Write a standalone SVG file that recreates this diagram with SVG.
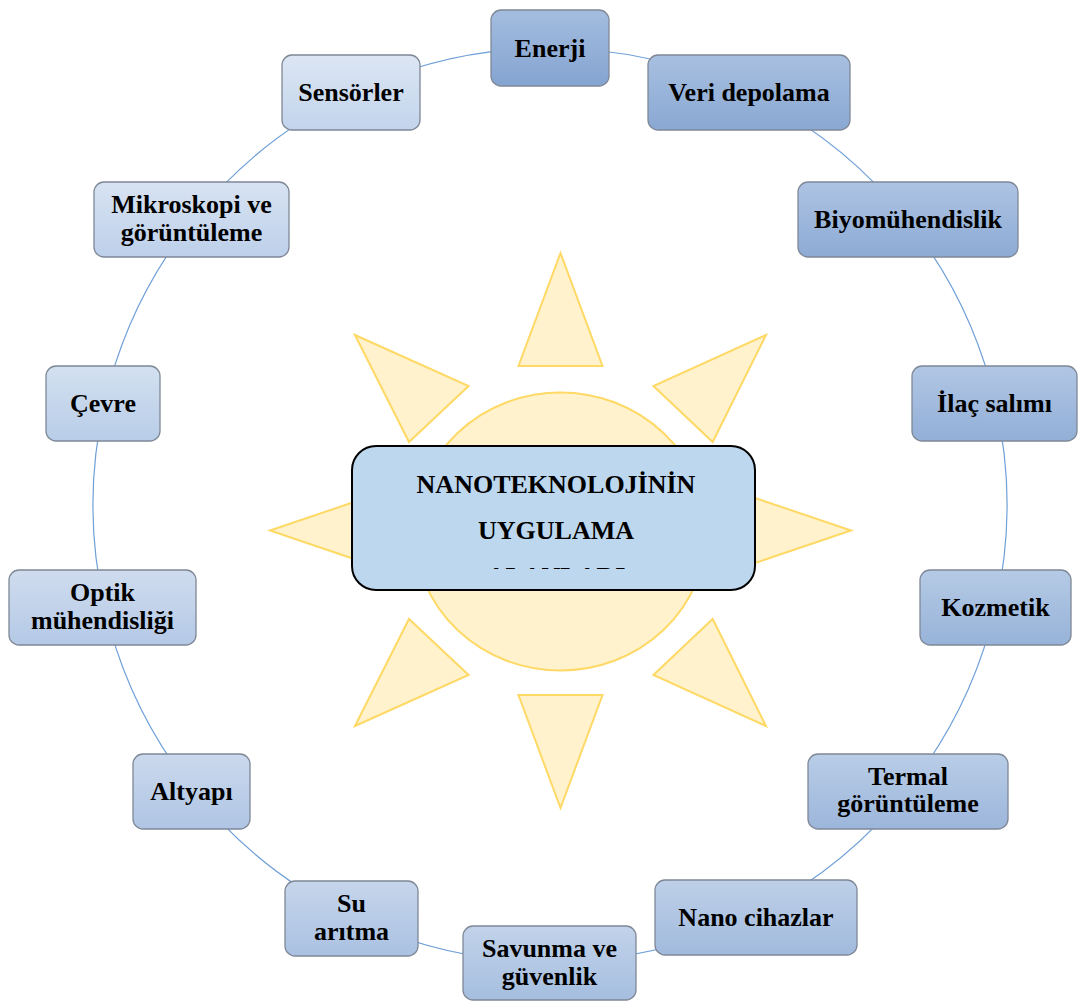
<svg xmlns="http://www.w3.org/2000/svg" width="1078" height="1001" viewBox="0 0 1078 1001">
<style>
.node rect{stroke:#7f8896;stroke-width:1.3}
.t{font-family:"Liberation Serif","Times New Roman",serif;font-weight:bold;font-size:26px;fill:#000;text-anchor:middle}
.conn path{fill:none;stroke:#6fa0d8;stroke-width:1.2}
.sun{fill:#fff2cc;stroke:#ffd966;stroke-width:2;stroke-linejoin:miter}
</style>
<defs>
<linearGradient id="g0" x1="0" y1="0" x2="0" y2="1"><stop offset="0" stop-color="#a4bddf"/><stop offset="1" stop-color="#84a4d1"/></linearGradient>
<linearGradient id="g1" x1="0" y1="0" x2="0" y2="1"><stop offset="0" stop-color="#a8c0e0"/><stop offset="1" stop-color="#89a8d3"/></linearGradient>
<linearGradient id="g2" x1="0" y1="0" x2="0" y2="1"><stop offset="0" stop-color="#adc3e2"/><stop offset="1" stop-color="#8dabd5"/></linearGradient>
<linearGradient id="g3" x1="0" y1="0" x2="0" y2="1"><stop offset="0" stop-color="#b1c6e4"/><stop offset="1" stop-color="#92afd7"/></linearGradient>
<linearGradient id="g4" x1="0" y1="0" x2="0" y2="1"><stop offset="0" stop-color="#b5cae5"/><stop offset="1" stop-color="#97b3d9"/></linearGradient>
<linearGradient id="g5" x1="0" y1="0" x2="0" y2="1"><stop offset="0" stop-color="#b9cde7"/><stop offset="1" stop-color="#9cb6db"/></linearGradient>
<linearGradient id="g6" x1="0" y1="0" x2="0" y2="1"><stop offset="0" stop-color="#bed0e8"/><stop offset="1" stop-color="#a1badd"/></linearGradient>
<linearGradient id="g7" x1="0" y1="0" x2="0" y2="1"><stop offset="0" stop-color="#c2d3ea"/><stop offset="1" stop-color="#a5bedf"/></linearGradient>
<linearGradient id="g8" x1="0" y1="0" x2="0" y2="1"><stop offset="0" stop-color="#c6d6eb"/><stop offset="1" stop-color="#aac1e2"/></linearGradient>
<linearGradient id="g9" x1="0" y1="0" x2="0" y2="1"><stop offset="0" stop-color="#cbd9ed"/><stop offset="1" stop-color="#afc5e4"/></linearGradient>
<linearGradient id="g10" x1="0" y1="0" x2="0" y2="1"><stop offset="0" stop-color="#cfdcee"/><stop offset="1" stop-color="#b4c9e6"/></linearGradient>
<linearGradient id="g11" x1="0" y1="0" x2="0" y2="1"><stop offset="0" stop-color="#d3e0f0"/><stop offset="1" stop-color="#b8cde8"/></linearGradient>
<linearGradient id="g12" x1="0" y1="0" x2="0" y2="1"><stop offset="0" stop-color="#d8e3f2"/><stop offset="1" stop-color="#bdd0ea"/></linearGradient>
<linearGradient id="g13" x1="0" y1="0" x2="0" y2="1"><stop offset="0" stop-color="#dce6f3"/><stop offset="1" stop-color="#c2d4ec"/></linearGradient>
<clipPath id="centerClip"><rect x="352" y="446" width="403" height="123"/></clipPath>
</defs>
<rect width="1078" height="1001" fill="#ffffff"/>

<g id="connectors" class="conn">
<path d="M550 48 A457 457 0 0 1 748.3 93.3"/>
<path d="M748.3 93.3 A457 457 0 0 1 907.3 220.1"/>
<path d="M907.3 220.1 A457 457 0 0 1 995.5 403.3"/>
<path d="M995.5 403.3 A457 457 0 0 1 995.5 606.7"/>
<path d="M995.5 606.7 A457 457 0 0 1 907.3 789.9"/>
<path d="M907.3 789.9 A457 457 0 0 1 748.3 916.7"/>
<path d="M748.3 916.7 A457 457 0 0 1 550 962"/>
<path d="M550 962 A457 457 0 0 1 351.7 916.7"/>
<path d="M351.7 916.7 A457 457 0 0 1 192.7 789.9"/>
<path d="M192.7 789.9 A457 457 0 0 1 104.5 606.7"/>
<path d="M104.5 606.7 A457 457 0 0 1 104.5 403.3"/>
<path d="M104.5 403.3 A457 457 0 0 1 192.7 220.1"/>
<path d="M192.7 220.1 A457 457 0 0 1 351.7 93.3"/>
<path d="M351.7 93.3 A457 457 0 0 1 550 48"/>
</g>

<g id="sun">
<polygon class="sun" points="560.5,253 602.5,366 518.5,366"/>
<polygon class="sun" points="560.5,808 602.5,695 518.5,695"/>
<polygon class="sun" points="270,530.5 388,490.5 388,570.5"/>
<polygon class="sun" points="851,530.5 733,490.5 733,570.5"/>
<polygon class="sun" points="355,335 468.6,386 409,442"/>
<polygon class="sun" points="766,335 653.4,386 712.7,442"/>
<polygon class="sun" points="355,726 468.6,675 409,619"/>
<polygon class="sun" points="766,726 653.4,675 712.7,619"/>
<ellipse class="sun" cx="560.5" cy="531.5" rx="146" ry="139"/>
</g>

<g id="center">
<rect x="352" y="446" width="403" height="144" rx="24" fill="#bdd7ee" stroke="#000" stroke-width="2"/>
<g clip-path="url(#centerClip)">
<text class="t" x="556" y="493">NANOTEKNOLOJİNİN</text>
<text class="t" x="556" y="539">UYGULAMA</text>
<text class="t" x="556" y="585">ALANLARI</text>
</g>
</g>

<g id="n0" class="node"><rect x="491" y="10" width="118" height="76" rx="10" fill="url(#g0)"/><text class="t" x="550" y="57">Enerji</text></g>
<g id="n1" class="node"><rect x="648" y="55" width="202" height="75" rx="10" fill="url(#g1)"/><text class="t" x="749" y="101">Veri depolama</text></g>
<g id="n2" class="node"><rect x="798" y="182" width="220" height="75" rx="10" fill="url(#g2)"/><text class="t" x="908" y="228">Biyomühendislik</text></g>
<g id="n3" class="node"><rect x="912" y="366" width="165" height="75" rx="10" fill="url(#g3)"/><text class="t" x="994.5" y="412">İlaç salımı</text></g>
<g id="n4" class="node"><rect x="920" y="570" width="151" height="75" rx="10" fill="url(#g4)"/><text class="t" x="995.5" y="616">Kozmetik</text></g>
<g id="n5" class="node"><rect x="808" y="754" width="200" height="75" rx="10" fill="url(#g5)"/><text class="t" x="908" y="785">Termal</text><text class="t" x="908" y="812">görüntüleme</text></g>
<g id="n6" class="node"><rect x="655" y="880" width="202" height="75" rx="10" fill="url(#g6)"/><text class="t" x="756" y="926">Nano cihazlar</text></g>
<g id="n7" class="node"><rect x="463" y="926" width="173" height="74" rx="10" fill="url(#g7)"/><text class="t" x="549.5" y="957">Savunma ve</text><text class="t" x="549.5" y="985">güvenlik</text></g>
<g id="n8" class="node"><rect x="285" y="881" width="133" height="75" rx="10" fill="url(#g8)"/><text class="t" x="351.5" y="912">Su</text><text class="t" x="351.5" y="940">arıtma</text></g>
<g id="n9" class="node"><rect x="133" y="754" width="117" height="75" rx="10" fill="url(#g9)"/><text class="t" x="191.5" y="800">Altyapı</text></g>
<g id="n10" class="node"><rect x="9" y="570" width="187" height="75" rx="10" fill="url(#g10)"/><text class="t" x="102.5" y="601">Optik</text><text class="t" x="102.5" y="629">mühendisliği</text></g>
<g id="n11" class="node"><rect x="46" y="366" width="114" height="75" rx="10" fill="url(#g11)"/><text class="t" x="103" y="412">Çevre</text></g>
<g id="n12" class="node"><rect x="94" y="182" width="195" height="75" rx="10" fill="url(#g12)"/><text class="t" x="191.5" y="213">Mikroskopi ve</text><text class="t" x="191.5" y="241">görüntüleme</text></g>
<g id="n13" class="node"><rect x="282" y="55" width="138" height="75" rx="10" fill="url(#g13)"/><text class="t" x="351" y="101">Sensörler</text></g>
</svg>
